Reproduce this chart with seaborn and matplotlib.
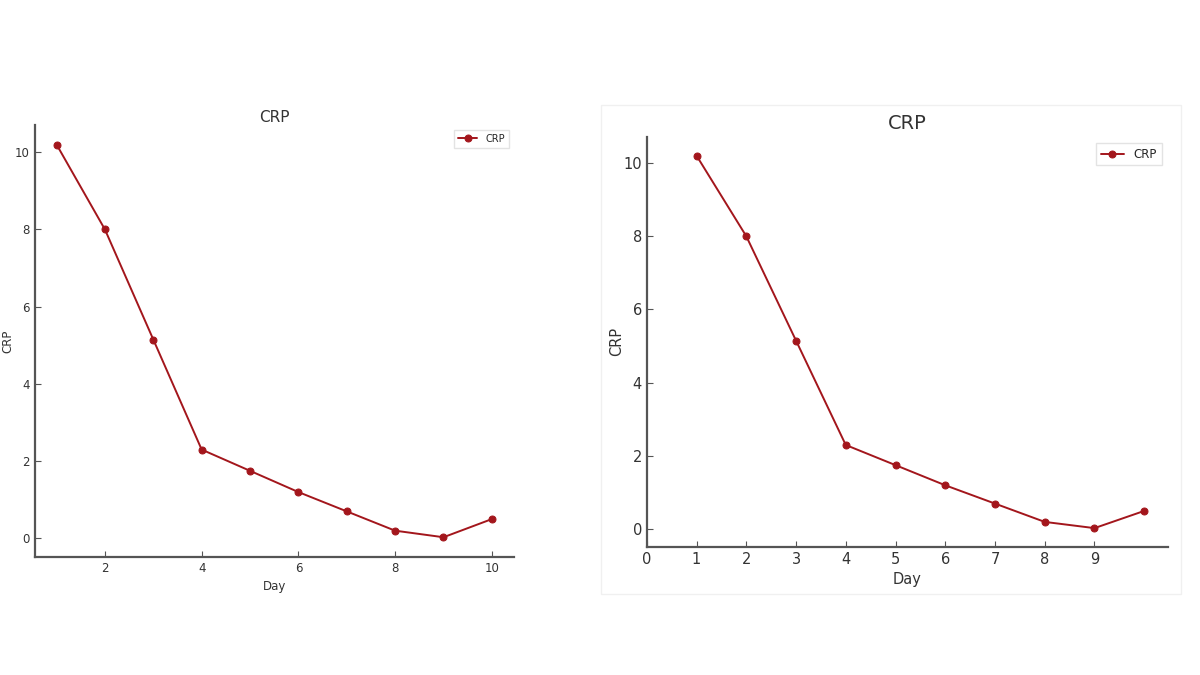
import matplotlib
matplotlib.use("Agg")
import matplotlib.pyplot as plt
import pandas as pd
import seaborn as sns

# CRP readings per day
days = [1, 2, 3, 4, 5, 6, 7, 8, 9, 10]
crp = [10.2, 8.0, 5.15, 2.3, 1.75, 1.2, 0.7, 0.2, 0.03, 0.5]
right_xticks = [0, 1, 2, 3, 4, 5, 6, 7, 8, 9]

line_color = "#a3161c"
spine_color = "#555555"
text_color = "#333333"

sns.set_style("ticks")
plt.rcParams["font.family"] = ["DejaVu Sans"]
plt.rcParams["xtick.direction"] = "in"
plt.rcParams["ytick.direction"] = "in"

df = pd.DataFrame({"Day": days, "CRP": crp})

fig = plt.figure(figsize=(12, 6.75), dpi=100)
ax_left = fig.add_axes([0.029, 0.175, 0.399, 0.640])
ax_right = fig.add_axes([0.539, 0.190, 0.434, 0.607])

# faint panel frame behind the right chart
fig.patches.append(plt.Rectangle((0.501, 0.12), 0.483, 0.725, transform=fig.transFigure,
                                 facecolor="none", edgecolor="#f0f0f0", linewidth=1.0, zorder=0))


def style_axes(ax, tick_size, label_size, title_size, legend_size, title_pad, ylabel_x):
    sns.lineplot(data=df, x="Day", y="CRP", marker="o", color=line_color, linewidth=1.4,
                 markersize=5, markeredgecolor=line_color, label="CRP", ax=ax)
    sns.despine(ax=ax)
    for side in ["left", "bottom"]:
        ax.spines[side].set_color(spine_color)
        ax.spines[side].set_linewidth(1.6)
    ax.tick_params(colors=spine_color, labelcolor=text_color, labelsize=tick_size, length=4, width=0.8)
    ax.set_xlabel("Day", fontsize=label_size, color=text_color)
    ax.set_ylabel("CRP", fontsize=label_size, color=text_color)
    ax.yaxis.set_label_coords(ylabel_x, 0.5)
    ax.set_title("CRP", fontsize=title_size, color=text_color, pad=title_pad)
    ax.legend(loc="upper right", fontsize=legend_size, frameon=True, edgecolor="#dddddd",
              fancybox=False, handlelength=2.0)


style_axes(ax_left, 8.5, 8.5, 11, 7, 2, -0.042)
ax_left.set_yticks([0, 2, 4, 6, 8, 10])
ax_left.set_xticks([2, 4, 6, 8, 10])

style_axes(ax_right, 10.5, 10.5, 14, 8.5, 6, -0.044)
ax_right.set_xlim(0, 10.47)
ax_right.set_xticks(right_xticks)
ax_right.set_yticks([0, 2, 4, 6, 8, 10])

fig.savefig("out.png", dpi=100)
